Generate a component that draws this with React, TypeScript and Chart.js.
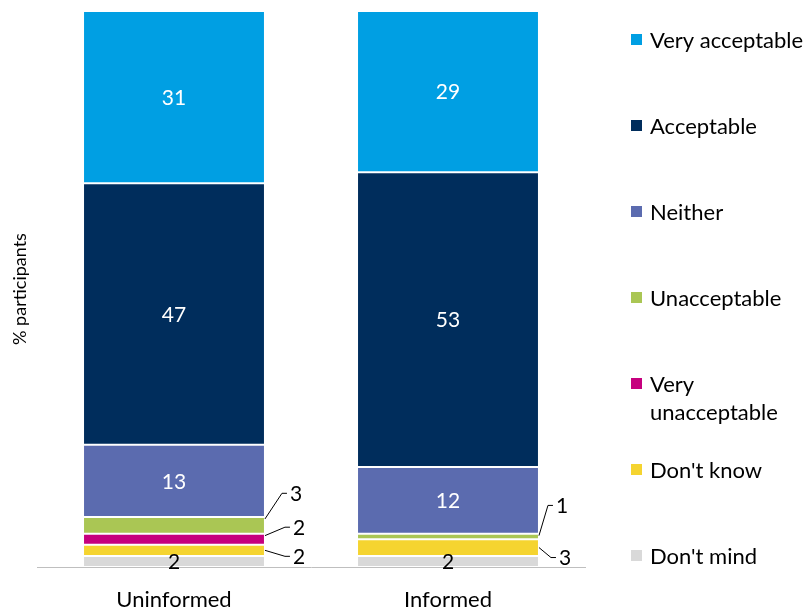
import React, { useEffect, useRef } from "react";
import { Chart, registerables } from "chart.js";

Chart.register(...registerables);

// ---- Data ----
const categories = ["Uninformed", "Informed"];
const seriesNames = [
  "Don't mind",
  "Don't know",
  "Very unacceptable",
  "Unacceptable",
  "Neither",
  "Acceptable",
  "Very acceptable",
];
const dontMind = [2, 2];
const dontKnow = [2, 3];
const veryUnacceptable = [2, 0];
const unacceptable = [3, 1];
const neither = [13, 12];
const acceptable = [47, 53];
const veryAcceptable = [31, 29];
const yAxisTitle = "% participants";

// ---- Styles ----
const FONT = "Lato, 'Open Sans', sans-serif";
const colors = ["#D9D9D9", "#F5D430", "#C6007E", "#AAC654", "#5B6BAF", "#002D5C", "#009FE3"];
const labelTextColors = ["#000000", "#000000", "#FFFFFF", "#FFFFFF", "#FFFFFF", "#FFFFFF", "#FFFFFF"];
const legendLines: Record<string, string[]> = { "Very unacceptable": ["Very", "unacceptable"] };
// callout labels for small segments: dataset index, category index, leader dx, label dy
const callouts = [
  { ds: 3, idx: 0, dx: 17, dy: -32 },
  { ds: 2, idx: 0, dx: 20, dy: -12 },
  { ds: 1, idx: 0, dx: 20, dy: 6 },
  { ds: 3, idx: 1, dx: 9, dy: -31 },
  { ds: 1, idx: 1, dx: 12, dy: 10 },
];

const seriesData = [dontMind, dontKnow, veryUnacceptable, unacceptable, neither, acceptable, veryAcceptable];

const labelPlugin = {
  id: "segLabels",
  afterDatasetsDraw(chart: any) {
    const ctx = chart.ctx;
    ctx.save();
    ctx.font = `21px ${FONT}`;
    chart.data.datasets.forEach((ds: any, di: number) => {
      const meta = chart.getDatasetMeta(di);
      meta.data.forEach((bar: any, i: number) => {
        const v = ds.data[i];
        if (!v) return;
        const p = bar.getProps(["x", "y", "base", "width"], true);
        const top = Math.min(p.y, p.base);
        const bottom = Math.max(p.y, p.base);
        const cy = (top + bottom) / 2;
        const co = callouts.find((c) => c.ds === di && c.idx === i);
        if (co) {
          const xr = p.x + p.width / 2;
          const ly = cy + co.dy;
          const sy = ly < cy ? top + 2 : cy;
          ctx.strokeStyle = "#000";
          ctx.lineWidth = 1;
          ctx.beginPath();
          ctx.moveTo(xr, sy);
          ctx.lineTo(xr + co.dx, ly);
          ctx.lineTo(xr + co.dx + 5, ly);
          ctx.stroke();
          ctx.fillStyle = "#000";
          ctx.textAlign = "left";
          ctx.textBaseline = "middle";
          ctx.fillText(String(v), xr + co.dx + 8, ly + 1);
        } else {
          ctx.fillStyle = labelTextColors[di];
          ctx.textAlign = "center";
          ctx.textBaseline = "middle";
          ctx.fillText(String(v), p.x, cy + 1);
        }
      });
    });
    ctx.restore();
  },
  afterDraw(chart: any) {
    const ctx = chart.ctx;
    const area = chart.chartArea;
    ctx.save();
    // y axis title
    ctx.font = `18px ${FONT}`;
    ctx.fillStyle = "#000";
    ctx.translate(20, (area.top + area.bottom) / 2);
    ctx.rotate(-Math.PI / 2);
    ctx.textAlign = "center";
    ctx.textBaseline = "middle";
    ctx.fillText(yAxisTitle, 0, 0);
    ctx.restore();

    // legend (top to bottom = reverse stack order)
    ctx.save();
    ctx.font = `22px ${FONT}`;
    ctx.textAlign = "left";
    ctx.textBaseline = "middle";
    const n = chart.data.datasets.length;
    for (let k = 0; k < n; k++) {
      const di = n - 1 - k;
      const ds = chart.data.datasets[di];
      const y = 40 + k * 86;
      ctx.fillStyle = ds.backgroundColor;
      ctx.fillRect(631, y - 6, 11, 11);
      ctx.fillStyle = "#000";
      const lines = legendLines[ds.label] || [ds.label];
      lines.forEach((ln: string, li: number) => ctx.fillText(ln, 650, y + li * 28 + 1));
    }
    ctx.restore();
  },
};

export default function App() {
  const ref = useRef<HTMLCanvasElement>(null);
  useEffect(() => {
    if (!ref.current) return;
    const chart = new Chart(ref.current, {
      type: "bar",
      data: {
        labels: categories,
        datasets: seriesNames.map((name, i) => ({
          label: name,
          data: seriesData[i],
          backgroundColor: colors[i],
          borderColor: "#FFFFFF",
          borderWidth: 1,
          borderSkipped: false,
          barPercentage: 0.664,
          categoryPercentage: 1,
        })),
      },
      options: {
        responsive: false,
        animation: false,
        layout: { padding: { left: 37, right: 224, top: 11, bottom: 0 } },
        plugins: { legend: { display: false }, tooltip: { enabled: false } },
        scales: {
          x: {
            stacked: true,
            grid: { display: false, drawTicks: false },
            border: { display: true, color: "#BFBFBF", width: 1 },
            ticks: { color: "#000", font: { family: FONT, size: 22 }, padding: 20 },
            afterFit: (s: any) => {
              s.height = 45;
            },
          },
          y: { stacked: true, display: false, min: 0, max: 100 },
        },
      },
      plugins: [labelPlugin],
    });
    return () => chart.destroy();
  }, []);
  return (
    <div style={{ position: "fixed", left: 0, top: 0, width: 809, height: 612, background: "#fff" }}>
      <canvas ref={ref} width={809} height={612} />
    </div>
  );
}
